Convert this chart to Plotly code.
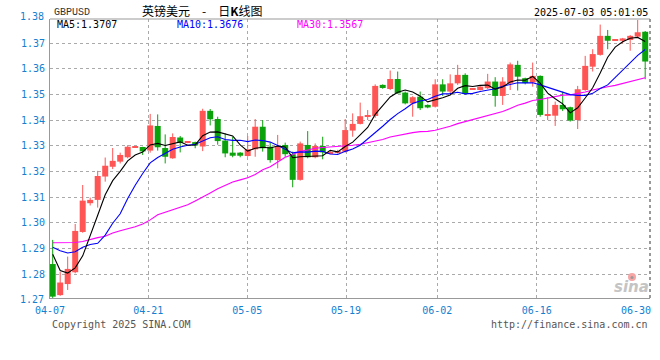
import plotly.graph_objects as go
import numpy as np

# ---------------- data ----------------
open_ = [1.2840, 1.2719, 1.2762, 1.2808, 1.2965, 1.3077, 1.3090, 1.3181, 1.3219, 1.3239,
         1.3256, 1.3295, 1.3296, 1.3282, 1.3378, 1.3292, 1.3252, 1.3333, 1.3313, 1.3315,
         1.3298, 1.3437, 1.3405, 1.3321, 1.3274, 1.3274, 1.3261, 1.3287, 1.3375, 1.3297,
         1.3245, 1.3304, 1.3268, 1.3168, 1.3304, 1.3256, 1.3300, 1.3272, 1.3273, 1.3278,
         1.3360, 1.3386, 1.3415, 1.3417, 1.3538, 1.3522, 1.3561, 1.3508, 1.3466, 1.3492,
         1.3460, 1.3453, 1.3540, 1.3512, 1.3544, 1.3577, 1.3521, 1.3518, 1.3525, 1.3551,
         1.3495, 1.3544, 1.3616, 1.3564, 1.3547, 1.3573, 1.3420, 1.3418, 1.3460, 1.3451,
         1.3401, 1.3518, 1.3609, 1.3655, 1.3729, 1.3712, 1.3710, 1.3713, 1.3726, 1.3745]
high = [1.2934, 1.2810, 1.2869, 1.2996, 1.3148, 1.3099, 1.3203, 1.3255, 1.3292, 1.3274,
        1.3303, 1.3299, 1.3297, 1.3425, 1.3423, 1.3345, 1.3349, 1.3339, 1.3318, 1.3317,
        1.3445, 1.3444, 1.3414, 1.3349, 1.3336, 1.3276, 1.3339, 1.3405, 1.3401, 1.3313,
        1.3343, 1.3313, 1.3278, 1.3317, 1.3358, 1.3310, 1.3336, 1.3280, 1.3285, 1.3405,
        1.3427, 1.3469, 1.3440, 1.3540, 1.3540, 1.3594, 1.3590, 1.3512, 1.3494, 1.3512,
        1.3462, 1.3560, 1.3560, 1.3579, 1.3616, 1.3583, 1.3525, 1.3535, 1.3581, 1.3568,
        1.3568, 1.3625, 1.3632, 1.3566, 1.3625, 1.3575, 1.3490, 1.3473, 1.3512, 1.3453,
        1.3534, 1.3651, 1.3677, 1.3773, 1.3752, 1.3716, 1.3721, 1.3732, 1.3791, 1.3748]
low = [1.2708, 1.2716, 1.2739, 1.2804, 1.2962, 1.3068, 1.3060, 1.3161, 1.3210, 1.3232,
       1.3252, 1.3294, 1.3265, 1.3274, 1.3282, 1.3232, 1.3250, 1.3275, 1.3311, 1.3291,
       1.3280, 1.3380, 1.3305, 1.3256, 1.3256, 1.3256, 1.3258, 1.3258, 1.3278, 1.3235,
       1.3213, 1.3258, 1.3139, 1.3165, 1.3252, 1.3252, 1.3248, 1.3268, 1.3270, 1.3274,
       1.3336, 1.3384, 1.3401, 1.3410, 1.3523, 1.3518, 1.3503, 1.3462, 1.3414, 1.3440,
       1.3447, 1.3450, 1.3495, 1.3503, 1.3538, 1.3499, 1.3519, 1.3516, 1.3522, 1.3453,
       1.3460, 1.3518, 1.3516, 1.3540, 1.3531, 1.3414, 1.3401, 1.3378, 1.3436, 1.3395,
       1.3366, 1.3515, 1.3590, 1.3652, 1.3677, 1.3710, 1.3700, 1.3671, 1.3722, 1.3560]
close = [1.2713, 1.2768, 1.2821, 1.2969, 1.3087, 1.3090, 1.3183, 1.3223, 1.3242, 1.3265,
         1.3297, 1.3297, 1.3279, 1.3380, 1.3295, 1.3258, 1.3335, 1.3312, 1.3315, 1.3302,
         1.3437, 1.3404, 1.3319, 1.3271, 1.3262, 1.3262, 1.3287, 1.3375, 1.3291, 1.3245,
         1.3300, 1.3268, 1.3168, 1.3310, 1.3256, 1.3300, 1.3275, 1.3275, 1.3277, 1.3362,
         1.3386, 1.3416, 1.3417, 1.3534, 1.3526, 1.3561, 1.3505, 1.3466, 1.3490, 1.3447,
         1.3450, 1.3540, 1.3512, 1.3544, 1.3577, 1.3503, 1.3523, 1.3531, 1.3551, 1.3495,
         1.3551, 1.3618, 1.3570, 1.3545, 1.3573, 1.3421, 1.3422, 1.3460, 1.3443, 1.3399,
         1.3521, 1.3612, 1.3658, 1.3729, 1.3710, 1.3714, 1.3719, 1.3729, 1.3743, 1.3629]

ma5 = [1.2878, 1.2815, 1.2805, 1.2825, 1.2872, 1.2947, 1.3030, 1.3110, 1.3165, 1.3201,
       1.3242, 1.3265, 1.3276, 1.3304, 1.3310, 1.3302, 1.3309, 1.3316, 1.3303, 1.3304,
       1.3340, 1.3354, 1.3355, 1.3347, 1.3339, 1.3304, 1.3280, 1.3291, 1.3295, 1.3292,
       1.3300, 1.3296, 1.3254, 1.3258, 1.3260, 1.3260, 1.3262, 1.3283, 1.3277, 1.3298,
       1.3315, 1.3343, 1.3372, 1.3423, 1.3456, 1.3491, 1.3509, 1.3518, 1.3510, 1.3494,
       1.3472, 1.3479, 1.3488, 1.3499, 1.3525, 1.3535, 1.3532, 1.3536, 1.3537, 1.3521,
       1.3530, 1.3549, 1.3557, 1.3556, 1.3571, 1.3545, 1.3506, 1.3484, 1.3464, 1.3429,
       1.3449, 1.3487, 1.3527, 1.3584, 1.3646, 1.3685, 1.3706, 1.3720, 1.3723, 1.3707]
ma10 = [1.2905, 1.2892, 1.2883, 1.2888, 1.2905, 1.2916, 1.2921, 1.2953, 1.2999, 1.3036,
        1.3095, 1.3147, 1.3193, 1.3234, 1.3255, 1.3272, 1.3287, 1.3296, 1.3303, 1.3307,
        1.3321, 1.3332, 1.3336, 1.3325, 1.3322, 1.3322, 1.3317, 1.3323, 1.3321, 1.3315,
        1.3302, 1.3288, 1.3273, 1.3277, 1.3276, 1.3280, 1.3279, 1.3269, 1.3267, 1.3279,
        1.3288, 1.3303, 1.3327, 1.3350, 1.3377, 1.3403, 1.3426, 1.3445, 1.3466, 1.3475,
        1.3481, 1.3494, 1.3503, 1.3504, 1.3509, 1.3503, 1.3505, 1.3512, 1.3518, 1.3523,
        1.3533, 1.3541, 1.3546, 1.3546, 1.3546, 1.3538, 1.3528, 1.3521, 1.3510, 1.3500,
        1.3497, 1.3497, 1.3505, 1.3524, 1.3538, 1.3567, 1.3597, 1.3623, 1.3653, 1.3676]
ma30 = [1.2923, 1.2923, 1.2923, 1.2924, 1.2928, 1.2936, 1.2943, 1.2948, 1.2961, 1.2970,
        1.2977, 1.2985, 1.2996, 1.3012, 1.3032, 1.3042, 1.3052, 1.3062, 1.3071, 1.3086,
        1.3100, 1.3117, 1.3133, 1.3148, 1.3160, 1.3168, 1.3176, 1.3189, 1.3207, 1.3219,
        1.3239, 1.3256, 1.3267, 1.3279, 1.3284, 1.3291, 1.3294, 1.3296, 1.3297, 1.3300,
        1.3303, 1.3307, 1.3312, 1.3317, 1.3325, 1.3335, 1.3341, 1.3346, 1.3352, 1.3356,
        1.3357, 1.3361, 1.3368, 1.3377, 1.3387, 1.3395, 1.3403, 1.3409, 1.3417, 1.3426,
        1.3434, 1.3446, 1.3459, 1.3467, 1.3477, 1.3481, 1.3486, 1.3492, 1.3498, 1.3499,
        1.3504, 1.3510, 1.3518, 1.3525, 1.3531, 1.3536, 1.3543, 1.3552, 1.3560, 1.3566]

x_tick_labels = ["04-07", "04-21", "05-05", "05-19", "06-02", "06-16", "06-30"]
y_tick_values = [1.28, 1.29, 1.30, 1.31, 1.32, 1.33, 1.34, 1.35, 1.36, 1.37]
y_edge_labels = ["1.38", "1.27"]
legend_texts = ["MA5:1.3707", "MA10:1.3676", "MA30:1.3567"]
title_text = "英镑美元\u3000-\u3000日<b>K</b>线图"
symbol_text = "GBPUSD"
time_text = "2025-07-03 05:01:05"

# ---------------- styling / layout constants ----------------
W, H = 660, 360
L, R, T, B = 50, 10, 19, 62
PW, PH = W - L - R, H - T - B
RED, GREEN = "#ff5555", "#0ba20b"
BLUE_TXT = "#1580d0"
MONO = "DejaVu Sans Mono"
x_tick_pos = [-0.35, 12.75, 25.95, 39.11, 51.28, 64.53, 79.57]
x_range = [-0.36, 79.64]
y_range = [1.27077, 1.37947]


def px_x(p):
    return (p - L) / PW


def px_y(p):
    return (H - B - p) / PH


o = np.array(open_)
c = np.array(close)
h = np.array(high)
lo = np.array(low)
idx = np.arange(len(c))
up = c >= o
mid = (o + c) / 2
body = np.maximum(np.abs(c - o), 0.0004)

fig = go.Figure()

for mask, col in ((up, RED), (~up, GREEN)):
    wx, wy = [], []
    for k in idx[mask]:
        wx += [k, k, None]
        wy += [lo[k], h[k], None]
    fig.add_trace(go.Scatter(x=wx, y=wy, mode="lines",
                             line=dict(color=col, width=1), hoverinfo="skip"))
for mask, col in ((up, RED), (~up, GREEN)):
    fig.add_trace(go.Bar(x=idx[mask], base=(mid - body / 2)[mask], y=body[mask],
                         width=0.8, marker=dict(color=col, line=dict(width=0)),
                         hoverinfo="skip"))

for series, col in ((ma30, "#ff00ff"), (ma10, "#0000ff"), (ma5, "#000000")):
    fig.add_trace(go.Scatter(x=idx, y=series, mode="lines",
                             line=dict(color=col, width=1.1), hoverinfo="skip"))

ann = []
for text, yp in zip(y_edge_labels, (17, 299)):
    ann.append(dict(x=px_x(46), xref="paper", y=px_y(yp), yref="paper", text=text,
                    showarrow=False, xanchor="right", yanchor="middle",
                    font=dict(family=MONO, size=10, color=BLUE_TXT)))
ann.append(dict(x=px_x(653), xref="paper", y=px_y(310), yref="paper",
                text=x_tick_labels[-1], showarrow=False, xanchor="right",
                yanchor="middle", font=dict(family=MONO, size=10, color=BLUE_TXT)))
for text, xp, col in zip(legend_texts, (55, 175, 295), ("#000000", "#0000ff", "#ff00ff")):
    ann.append(dict(x=px_x(xp), xref="paper", y=px_y(25), yref="paper", text=text,
                    showarrow=False, xanchor="left", yanchor="middle",
                    font=dict(family=MONO, size=10, color=col)))
ann.append(dict(x=px_x(52), xref="paper", y=px_y(12), yref="paper", text=symbol_text,
                showarrow=False, xanchor="left", yanchor="middle",
                font=dict(family="Liberation Mono", size=10, color="#333333")))
ann.append(dict(x=px_x(140), xref="paper", y=px_y(10), yref="paper", text=title_text,
                showarrow=False, xanchor="left", yanchor="middle",
                font=dict(family="Noto Sans CJK SC", size=12, color="#000000")))
ann.append(dict(x=px_x(650), xref="paper", y=px_y(12), yref="paper", text=time_text,
                showarrow=False, xanchor="right", yanchor="middle",
                font=dict(family=MONO, size=10, color="#000000")))
ann.append(dict(x=px_x(50), xref="paper", y=px_y(324), yref="paper",
                text="Copyright 2025 SINA.COM", showarrow=False, xanchor="left",
                yanchor="middle", font=dict(family=MONO, size=10, color="#555555")))
ann.append(dict(x=px_x(650), xref="paper", y=px_y(324), yref="paper",
                text="http://finance.sina.com.cn", showarrow=False, xanchor="right",
                yanchor="middle", font=dict(family=MONO, size=10, color="#555555")))
ann.append(dict(x=px_x(651), xref="paper", y=px_y(287), yref="paper",
                text="<b><i>sina</i></b>", showarrow=False, xanchor="right",
                yanchor="middle", font=dict(family="DejaVu Sans", size=15, color="#c4c4c4")))

shapes = [
    dict(type="line", xref="paper", yref="paper", x0=0, x1=1, y0=1, y1=1,
         line=dict(color="#999999", width=1)),
    dict(type="line", xref="paper", yref="paper", x0=1, x1=1, y0=0, y1=1,
         line=dict(color="#999999", width=2, dash="dot")),
    dict(type="circle", xref="paper", yref="paper", x0=px_x(628), x1=px_x(636),
         y0=px_y(281), y1=px_y(273), fillcolor="#f7a5a5", line=dict(width=0)),
    dict(type="circle", xref="paper", yref="paper", x0=px_x(630.5), x1=px_x(633.5),
         y0=px_y(279), y1=px_y(276), fillcolor="#9a9a9a", line=dict(width=0)),
]

fig.update_layout(
    width=W, height=H, margin=dict(l=L, r=R, t=T, b=B),
    paper_bgcolor="white", plot_bgcolor="white", showlegend=False,
    barmode="overlay", annotations=ann, shapes=shapes,
    xaxis=dict(range=x_range, tickvals=x_tick_pos,
               ticktext=x_tick_labels[:-1] + [""], showgrid=True,
               gridcolor="#aaaaaa", griddash="dot", gridwidth=1, zeroline=False,
               showline=True, linecolor="#999999", linewidth=1,
               ticks="outside", ticklen=3, tickcolor="rgba(0,0,0,0)",
               tickfont=dict(family=MONO, size=10, color=BLUE_TXT), fixedrange=True),
    yaxis=dict(range=y_range, tickvals=y_tick_values,
               ticktext=[f"{v:.2f}" for v in y_tick_values], showgrid=True,
               gridcolor="#aaaaaa", griddash="dot", gridwidth=1, zeroline=False,
               showline=True, linecolor="#999999", linewidth=1,
               ticks="outside", ticklen=2, tickcolor="rgba(0,0,0,0)",
               tickfont=dict(family=MONO, size=10, color=BLUE_TXT), fixedrange=True),
)

fig.write_html("out.html", config={"displayModeBar": False},
               post_script="document.body.style.margin='0';document.body.style.overflow='hidden';")
